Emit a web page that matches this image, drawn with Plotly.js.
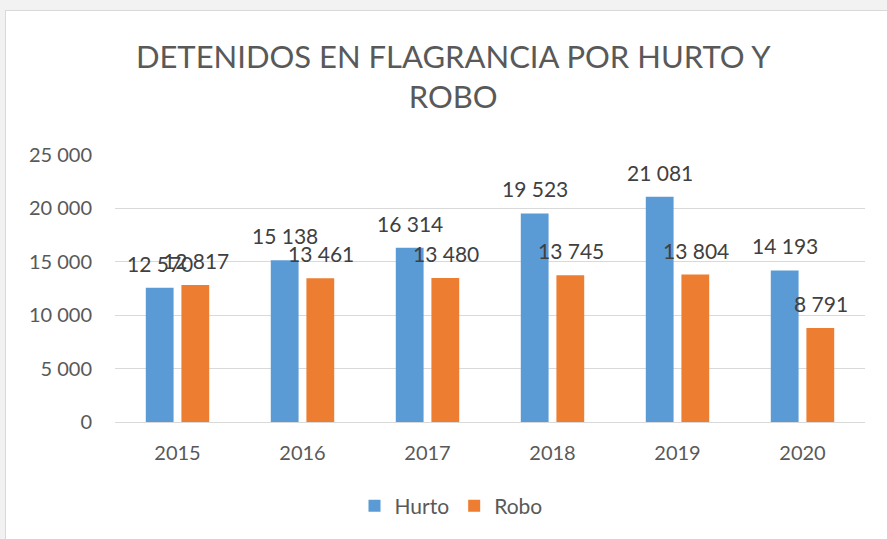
<!DOCTYPE html>
<html>
<head>
<meta charset="utf-8">
<script src="https://cdn.plot.ly/plotly-3.0.1.min.js"></script>
<style>
html,body{margin:0;padding:0;background:#fff;}
#wrap{position:relative;width:887px;height:539px;overflow:hidden;background:#f2f2f2;}
#box{position:absolute;left:5px;top:10px;width:900px;height:560px;border:1px solid #d9d9d9;background:#fff;}
#chart{position:absolute;left:0;top:0;width:887px;height:539px;}
</style>
</head>
<body>
<div id="wrap">
<div id="box"></div>
<div id="chart"></div>
</div>
<script>
const years = ['2015','2016','2017','2018','2019','2020'];
const hurto = [12570, 15138, 16314, 19523, 21081, 14193];
const robo = [12817, 13461, 13480, 13745, 13804, 8791];
const yTicks = [0, 5000, 10000, 15000, 20000, 25000];

const FONT = 'Lato, "Open Sans", sans-serif';
const fmt = v => String(v).replace(/\B(?=(\d{3})+(?!\d))/g, ' ');

const traces = [
  {type:'bar', name:'Hurto', x: years, y: hurto, marker:{color:'#5b9bd5'}, hoverinfo:'skip'},
  {type:'bar', name:'Robo', x: years, y: robo, marker:{color:'#ed7d31'}, hoverinfo:'skip'}
];

const annotations = [];
[[hurto, -18], [robo, 18]].forEach(([vals, dx]) => {
  vals.forEach((v, i) => {
    annotations.push({x: i, y: v, xref:'x', yref:'y', text: fmt(v), showarrow:false,
      xanchor:'center', yanchor:'bottom', xshift: dx, yshift: 10,
      font:{family: FONT, size: 21, color:'#404040'}});
  });
});

const layout = {
  width: 887, height: 539,
  paper_bgcolor: 'rgba(0,0,0,0)', plot_bgcolor: 'rgba(0,0,0,0)',
  separators: ', ',
  margin: {l:115, r:22, t:155, b:117},
  font: {family: FONT, color:'#595959'},
  title: {text:'DETENIDOS EN FLAGRANCIA POR HURTO Y<br>ROBO', x:0.511, xanchor:'center',
          y: 1 - 68/539, yanchor:'top', yref:'container',
          font:{size:31, color:'#595959', family: FONT}},
  barmode: 'group', bargap: 0.43, bargroupgap: 0.22,
  xaxis: {type:'category', categoryarray: years, range:[-0.5, years.length - 0.5],
          showgrid:false, showline:true, linecolor:'#d9d9d9', linewidth:1,
          ticks:'', tickfont:{size:20, color:'#595959'}, ticklabelstandoff:13},
  yaxis: {range:[0,25000], tickvals: yTicks, tickformat:',d', showgrid:true, gridcolor:'#d9d9d9',
          gridwidth:1, zeroline:false, showline:false, ticks:'', tickfont:{size:20, color:'#595959'},
          ticklabelstandoff:22},
  legend: {orientation:'h', x:0.448, xanchor:'center', y:-0.315, yanchor:'middle',
           font:{size:21, color:'#595959'}, itemwidth:30, traceorder:'normal'},
  annotations: annotations,
  showlegend: true
};

Plotly.newPlot('chart', traces, layout, {staticPlot:true, displayModeBar:false});
</script>
</body>
</html>
